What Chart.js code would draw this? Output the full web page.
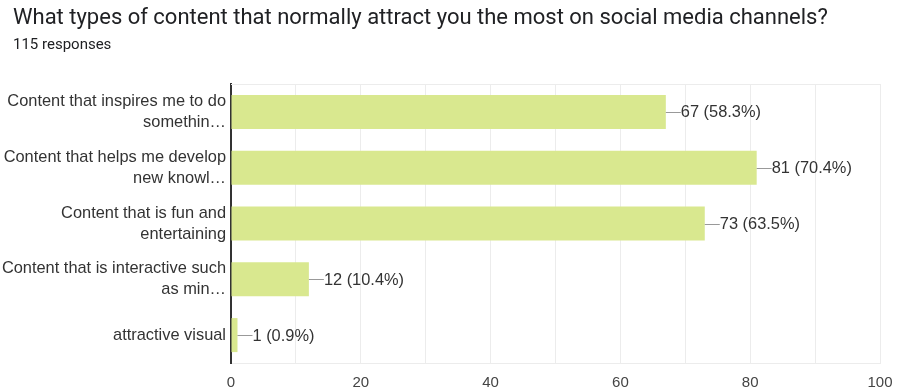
<!DOCTYPE html>
<html>
<head>
<meta charset="utf-8">
<script src="https://cdn.jsdelivr.net/npm/chart.js@4.4.1/dist/chart.umd.min.js"></script>
<style>
  html, body { margin: 0; padding: 0; background: #fff; }
  #wrap { position: relative; width: 897px; height: 392px; }
  #title { position: absolute; left: 13px; top: 4px; font-family: Roboto, "Liberation Sans", sans-serif; font-size: 22px; color: #202124; white-space: nowrap; }
  #sub { position: absolute; left: 13px; top: 35px; font-family: Roboto, "Liberation Sans", sans-serif; font-size: 15px; color: #202124; }
  canvas { position: absolute; left: 0; top: 0; }
</style>
</head>
<body>
<div id="wrap">
  <canvas id="chart" width="897" height="392"></canvas>
  <div id="title">What types of content that normally attract you the most on social media channels?</div>
  <div id="sub">115 responses</div>
</div>
<script>
// answer options (as shown, truncated by the form)
const categories = [
  ['Content that inspires me to do', 'somethin…'],
  ['Content that helps me develop', 'new knowl…'],
  ['Content that is fun and', 'entertaining'],
  ['Content that is interactive such', 'as min…'],
  'attractive visual'
];
const counts = [67, 81, 73, 12, 1];
const percents = ['58.3%', '70.4%', '63.5%', '10.4%', '0.9%'];
const xTicks = [0, 20, 40, 60, 80, 100];

const chartFont = 'Arial, "Liberation Sans", Helvetica, sans-serif';
const labelSize = 16.4;

// leader line + "n (p%)" label after each bar
const valueLabels = {
  id: 'valueLabels',
  afterDatasetsDraw(chart) {
    const ctx = chart.ctx;
    const meta = chart.getDatasetMeta(0);
    ctx.save();
    ctx.font = labelSize + 'px ' + chartFont;
    ctx.textBaseline = 'middle';
    ctx.textAlign = 'left';
    meta.data.forEach((bar, i) => {
      ctx.strokeStyle = '#999';
      ctx.lineWidth = 1;
      ctx.beginPath();
      ctx.moveTo(bar.x, Math.round(bar.y) + 0.5);
      ctx.lineTo(bar.x + 15, Math.round(bar.y) + 0.5);
      ctx.stroke();
      ctx.fillStyle = '#333';
      ctx.fillText(counts[i] + ' (' + percents[i] + ')', bar.x + 15, bar.y + 1);
    });
    ctx.restore();
  }
};

// light frame line along the top of the plot
const topLine = {
  id: 'topLine',
  beforeDatasetsDraw(chart) {
    const a = chart.chartArea;
    const ctx = chart.ctx;
    ctx.save();
    ctx.strokeStyle = '#ececec';
    ctx.lineWidth = 1;
    ctx.beginPath();
    ctx.moveTo(a.left, a.top + 0.5);
    ctx.lineTo(a.right, a.top + 0.5);
    ctx.stroke();
    ctx.restore();
  }
};

new Chart(document.getElementById('chart'), {
  type: 'bar',
  data: {
    labels: categories,
    datasets: [{
      data: counts,
      backgroundColor: '#d9e88f',
      borderWidth: 0,
      barPercentage: 0.61,
      categoryPercentage: 1
    }]
  },
  options: {
    indexAxis: 'y',
    responsive: false,
    animation: false,
    layout: { padding: { top: 84, right: 17, bottom: 0, left: 0 } },
    plugins: { legend: { display: false }, tooltip: { enabled: false } },
    scales: {
      x: {
        min: 0,
        max: 100,
        ticks: {
          stepSize: 10,
          padding: 11,
          color: '#444',
          font: { family: chartFont, size: 15 },
          maxRotation: 0,
          callback: v => xTicks.includes(v) ? String(v) : ''
        },
        grid: { color: '#ececec', drawTicks: false },
        border: { color: '#ececec' },
        afterFit: s => { s.height = 29; s.paddingRight = 0; }
      },
      y: {
        ticks: {
          color: '#333',
          padding: 5,
          font: { family: chartFont, size: labelSize, lineHeight: 1.28 }
        },
        grid: { display: false, drawTicks: false },
        border: { color: '#333', width: 2 },
        afterFit: s => { s.width = 231; }
      }
    }
  },
  plugins: [topLine, valueLabels]
});
</script>
</body>
</html>
